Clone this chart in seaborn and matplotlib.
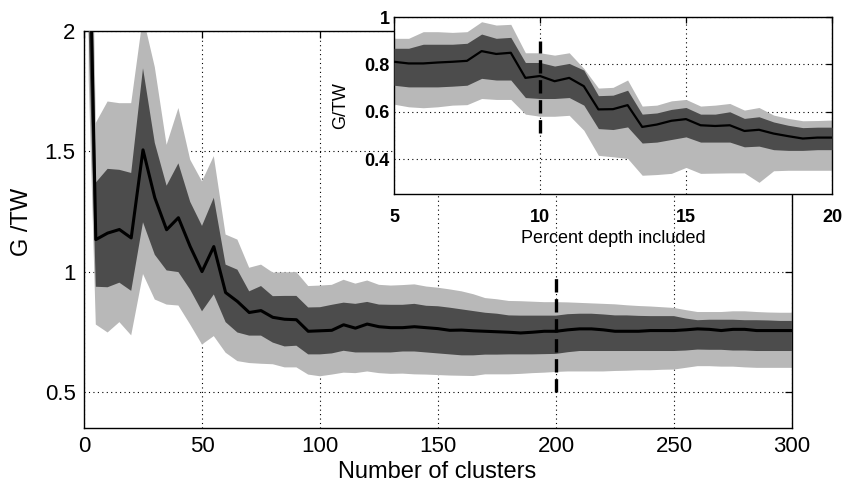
import numpy as np
import pandas as pd
import matplotlib
matplotlib.use("Agg")
import matplotlib.pyplot as plt
import seaborn as sns

# ---------------- main panel data ----------------
clusters = [2, 5, 10, 15, 20, 25, 30, 35, 40, 45, 50, 55, 60, 65, 70, 75, 80, 85, 90,
            95, 100, 105, 110, 115, 120, 125, 130, 135, 140, 145, 150, 155, 160, 165,
            170, 175, 180, 185, 190, 195, 200, 205, 210, 215, 220, 225, 230, 235, 240,
            245, 250, 255, 260, 265, 270, 275, 280, 285, 290, 295, 300]
main_mean = [2.6, 1.133, 1.16, 1.175, 1.14, 1.506, 1.307, 1.174, 1.224, 1.104, 1.0, 1.104,
             0.913, 0.876, 0.83, 0.838, 0.81, 0.802, 0.80,
             0.752, 0.754, 0.756, 0.779, 0.765, 0.782, 0.771, 0.767, 0.767, 0.771, 0.767,
             0.763, 0.756, 0.757, 0.754,
             0.752, 0.75, 0.748, 0.745, 0.748, 0.752, 0.752, 0.758, 0.762, 0.762, 0.758,
             0.752, 0.752, 0.752, 0.755, 0.755, 0.755, 0.758, 0.762, 0.76, 0.755, 0.76,
             0.76, 0.755, 0.755, 0.755, 0.755]
main_dark_hi = [3.0, 1.37, 1.427, 1.423, 1.41, 1.845, 1.535, 1.357, 1.45, 1.29, 1.19, 1.307,
                1.029, 1.008, 0.918, 0.94, 0.898, 0.899, 0.899,
                0.851, 0.852, 0.862, 0.871, 0.866, 0.874, 0.863, 0.862, 0.862, 0.866, 0.858,
                0.856, 0.85, 0.843, 0.836,
                0.829, 0.825, 0.818, 0.817, 0.817, 0.817, 0.817, 0.823, 0.825, 0.825, 0.822,
                0.818, 0.818, 0.816, 0.815, 0.815, 0.815, 0.805, 0.798, 0.8, 0.8, 0.8,
                0.798, 0.798, 0.797, 0.795, 0.795]
main_dark_lo = [2.0, 0.937, 0.935, 0.954, 0.92, 1.205, 1.07, 1.005, 0.998, 0.925, 0.835, 0.905,
                0.79, 0.747, 0.734, 0.734, 0.705, 0.689, 0.692,
                0.656, 0.656, 0.66, 0.671, 0.664, 0.664, 0.664, 0.664, 0.668, 0.668, 0.664,
                0.66, 0.656, 0.652, 0.652,
                0.655, 0.655, 0.656, 0.656, 0.656, 0.657, 0.658, 0.665, 0.67, 0.67, 0.67,
                0.67, 0.67, 0.67, 0.67, 0.67, 0.67, 0.672, 0.676, 0.675, 0.675, 0.672,
                0.672, 0.67, 0.67, 0.67, 0.67]
main_light_hi = [3.3, 1.618, 1.707, 1.70, 1.70, 2.06, 1.85, 1.527, 1.68, 1.465, 1.375, 1.48,
                 1.154, 1.133, 1.016, 1.029, 0.996, 0.997, 0.998,
                 0.94, 0.942, 0.945, 0.966, 0.95, 0.963, 0.945, 0.942, 0.944, 0.947, 0.938,
                 0.933, 0.926, 0.918, 0.906,
                 0.89, 0.885, 0.878, 0.877, 0.875, 0.873, 0.873, 0.872, 0.87, 0.868, 0.866,
                 0.864, 0.86, 0.857, 0.855, 0.852, 0.849, 0.84, 0.832, 0.832, 0.832, 0.835,
                 0.835, 0.832, 0.83, 0.829, 0.829]
main_light_lo = [1.8, 0.78, 0.747, 0.79, 0.735, 0.99, 0.884, 0.863, 0.859, 0.78, 0.697, 0.732,
                 0.663, 0.628, 0.62, 0.617, 0.615, 0.602, 0.602,
                 0.572, 0.565, 0.572, 0.58, 0.578, 0.585, 0.578, 0.575, 0.576, 0.573, 0.572,
                 0.57, 0.568, 0.567, 0.566,
                 0.573, 0.573, 0.573, 0.575, 0.578, 0.58, 0.583, 0.585, 0.585, 0.585, 0.585,
                 0.587, 0.588, 0.59, 0.59, 0.592, 0.593, 0.6, 0.607, 0.607, 0.605, 0.605,
                 0.602, 0.6, 0.6, 0.6, 0.6]

# ---------------- inset data ----------------
depth = [5.0, 5.5, 6.0, 6.5, 7.0, 7.5, 8.0, 8.5, 9.0, 9.5, 10.0, 10.5, 11.0, 11.5, 12.0,
         12.5, 13.0, 13.5, 14.0, 14.5, 15.0, 15.5, 16.0, 16.5, 17.0, 17.5, 18.0, 18.5,
         19.0, 19.5, 20.0]
ins_mean = [0.811, 0.804, 0.804, 0.808, 0.811, 0.815, 0.856, 0.844, 0.849, 0.743, 0.751,
            0.729, 0.743, 0.708, 0.610, 0.611, 0.628, 0.536, 0.546, 0.562, 0.569, 0.543,
            0.540, 0.543, 0.519, 0.524, 0.508, 0.497, 0.487, 0.491, 0.491]
ins_dark_hi = [0.868, 0.868, 0.885, 0.885, 0.885, 0.889, 0.928, 0.910, 0.914, 0.808, 0.808,
               0.793, 0.804, 0.776, 0.668, 0.670, 0.691, 0.590, 0.595, 0.610, 0.618, 0.590,
               0.590, 0.600, 0.572, 0.579, 0.557, 0.543, 0.533, 0.535, 0.535]
ins_dark_lo = [0.712, 0.705, 0.705, 0.705, 0.708, 0.712, 0.741, 0.734, 0.734, 0.660, 0.656,
               0.656, 0.660, 0.628, 0.529, 0.525, 0.536, 0.468, 0.472, 0.483, 0.494, 0.472,
               0.472, 0.472, 0.452, 0.455, 0.440, 0.437, 0.437, 0.440, 0.440]
ins_light_hi = [0.910, 0.910, 0.938, 0.938, 0.935, 0.938, 0.980, 0.966, 0.969, 0.849, 0.849,
                0.839, 0.849, 0.783, 0.700, 0.703, 0.734, 0.624, 0.628, 0.646, 0.652, 0.624,
                0.628, 0.635, 0.607, 0.618, 0.586, 0.572, 0.562, 0.563, 0.565]
ins_light_lo = [0.632, 0.621, 0.617, 0.621, 0.628, 0.630, 0.656, 0.652, 0.652, 0.590, 0.581,
                0.581, 0.585, 0.522, 0.416, 0.410, 0.403, 0.332, 0.335, 0.340, 0.365, 0.340,
                0.341, 0.342, 0.342, 0.302, 0.351, 0.353, 0.353, 0.353, 0.353]

main_xticks = [0, 50, 100, 150, 200, 250, 300]
main_yticks = [0.5, 1, 1.5, 2]
main_ytick_labels = ["0.5", "1", "1.5", "2"]
ins_xticks = [5, 10, 15, 20]
ins_yticks = [0.4, 0.6, 0.8, 1.0]
ins_ytick_labels = ["0.4", "0.6", "0.8", "1"]

LIGHT = "#b8b8b8"
DARK = "#4c4c4c"

sns.set_theme(style="white")
plt.rcParams["font.family"] = ["Liberation Sans", "DejaVu Sans"]
plt.rcParams["text.color"] = "black"
plt.rcParams["axes.labelcolor"] = "black"
plt.rcParams["xtick.color"] = "black"
plt.rcParams["ytick.color"] = "black"

fig = plt.figure(figsize=(8.42, 4.83), dpi=100)
W, H = 842, 483

def frac(l, t, r, b):
    return [l / W, 1 - b / H, (r - l) / W, (b - t) / H]

ax = fig.add_axes(frac(84, 31, 792, 428))
main_df = pd.DataFrame({"clusters": clusters, "mean": main_mean})
ax.fill_between(clusters, main_light_lo, main_light_hi, color=LIGHT, lw=0, zorder=2)
ax.fill_between(clusters, main_dark_lo, main_dark_hi, color=DARK, lw=0, zorder=3)
sns.lineplot(data=main_df, x="clusters", y="mean", ax=ax, color="black", lw=2.2, zorder=4)
ax.vlines(200, 0.5, 0.98, colors="black", linestyles=(0, (4, 2)), lw=2.4, zorder=5)
ax.set_xlim(0, 300)
ax.set_ylim(0.35, 2.0)
ax.set_xticks(main_xticks)
ax.set_yticks(main_yticks)
ax.set_yticklabels(main_ytick_labels)
ax.grid(True, color="black", linestyle=(0, (1, 3)), lw=0.8, zorder=1)
ax.set_axisbelow(True)
ax.tick_params(direction="in", length=5, width=0.9, top=True, right=True,
               labelsize=16, pad=6, colors="black")
for s in ax.spines.values():
    s.set_color("black")
    s.set_linewidth(1.0)
ax.set_xlabel("")
ax.set_ylabel("")
fig.text(437 / W, 1 - 477.5 / H, "Number of clusters", ha="center", va="baseline",
         fontsize=17, color="black")
fig.text(22.5 / W, 1 - 222 / H, "G /TW", ha="center", va="center", rotation=90,
         fontsize=17, color="black")

# ---------------- inset ----------------
axi = fig.add_axes(frac(394, 17, 832, 193.5))
axi.set_facecolor("white")
ins_df = pd.DataFrame({"depth": depth, "mean": ins_mean})
axi.fill_between(depth, ins_light_lo, ins_light_hi, color=LIGHT, lw=0, zorder=2)
axi.fill_between(depth, ins_dark_lo, ins_dark_hi, color=DARK, lw=0, zorder=3)
sns.lineplot(data=ins_df, x="depth", y="mean", ax=axi, color="black", lw=1.6, zorder=4)
axi.vlines(10, 0.51, 0.90, colors="black", linestyles=(0, (4, 2)), lw=2.4, zorder=5)
axi.set_xlim(5, 20)
axi.set_ylim(0.255, 1.0)
axi.set_xticks(ins_xticks)
axi.set_yticks(ins_yticks)
axi.set_yticklabels(ins_ytick_labels)
axi.grid(True, color="black", linestyle=(0, (1, 3)), lw=0.8, zorder=1)
axi.set_axisbelow(True)
axi.tick_params(direction="in", length=4, width=0.9, top=True, right=True,
                labelsize=13, colors="black")
axi.tick_params(axis="x", pad=11)
axi.tick_params(axis="y", pad=3)
for lab in axi.get_xticklabels() + axi.get_yticklabels():
    lab.set_fontweight("bold")
for s in axi.spines.values():
    s.set_color("black")
    s.set_linewidth(1.0)
axi.set_xlabel("")
axi.set_ylabel("")
fig.text(613 / W, 1 - 242.5 / H, "Percent depth included", ha="center", va="baseline",
         fontsize=13, color="black")
fig.text(341 / W, 1 - 106 / H, "G/TW", ha="center", va="center", rotation=90,
         fontsize=13, color="black")

fig.savefig("out.png", dpi=100)
